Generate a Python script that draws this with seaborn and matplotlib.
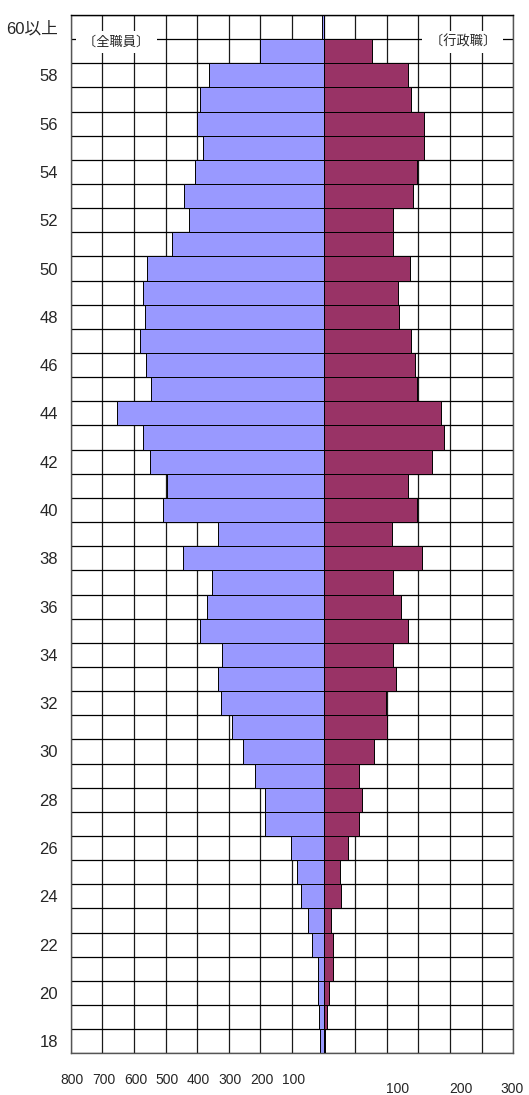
import matplotlib
matplotlib.use('Agg')
import matplotlib.pyplot as plt
import matplotlib.transforms as mtransforms
import numpy as np
import pandas as pd
import seaborn as sns

# age classes, top to bottom
ages = ['60以上'] + [str(a) for a in range(59, 17, -1)]

# 全職員 (left side, people)
all_staff = [5, 202, 364, 390, 399, 382, 407, 440, 426, 480,
             558, 571, 565, 580, 561, 545, 652, 570, 548, 494,
             509, 334, 446, 354, 370, 390, 322, 335, 325, 291,
             254, 216, 184, 184, 103, 85, 70, 50, 37, 19,
             17, 14, 11]

# 行政職 (right side, people)
admin = [0, 77, 133, 139, 159, 158, 147, 142, 110, 110,
         137, 117, 120, 139, 145, 147, 186, 191, 172, 134,
         147, 108, 156, 110, 122, 134, 109, 114, 99, 101,
         79, 56, 61, 56, 39, 26, 27, 12, 15, 15,
         9, 6, 3]

left_ticks = [800, 700, 600, 500, 400, 300, 200, 100]
right_ticks = [100, 200, 300]

sns.set_style('white')
plt.rcParams['font.family'] = ['Liberation Sans', 'Noto Sans CJK JP']

df = pd.DataFrame({'age': ages,
                   'all': [-v for v in all_staff],
                   'admin': admin})

fig = plt.figure(figsize=(5.29, 10.95), dpi=100)
ax = fig.add_axes([0.1336, 0.0381, 0.8367, 0.9482])
ax2 = ax.twiny()

sns.barplot(data=df, x='all', y='age', orient='h', color='#9999FF',
            saturation=1, edgecolor='black', linewidth=0.7, width=1.0, ax=ax)
sns.barplot(data=df, x='admin', y='age', orient='h', color='#993366',
            saturation=1, edgecolor='black', linewidth=0.7, width=1.0, ax=ax2)

n = len(ages)
ax.set_xlim(-800, 600)
ax2.set_xlim(-400, 300)
ax.set_ylim(n - 0.5, -0.5)
ax2.set_ylim(n - 0.5, -0.5)

# grid: vertical every 100 (left scale), horizontal on row borders
ax.set_xticks(np.arange(-800, 601, 100))
ax.set_xticklabels([])
ax.set_yticks(np.arange(-0.5, n, 1), minor=True)
ax.set_yticks(np.arange(0, n, 2))
ax.set_yticklabels(ages[::2], fontsize=12)
ax.set_axisbelow(True)
ax.xaxis.grid(True, color='#1a1a1a', linewidth=0.9)
ax.yaxis.grid(True, which='minor', color='black', linewidth=0.9)
ax.yaxis.grid(False, which='major')
ax.tick_params(axis='both', which='both', length=0)
ax.tick_params(axis='y', pad=9)
ax.set_xlabel('')
ax.set_ylabel('')
ax2.set_xticks([])
ax2.set_xlabel('')
ax2.set_ylabel('')
for sp in ax2.spines.values():
    sp.set_visible(False)
for name, sp in ax.spines.items():
    sp.set_color('#555555' if name in ('left', 'bottom', 'right') else 'black')
    sp.set_linewidth(1.0)

# bottom scale labels
tl = mtransforms.blended_transform_factory(ax.transData, ax.transAxes)
for v in left_ticks:
    ax.text(-v + 5, -0.0257, str(v), transform=tl, ha='center', va='center',
            fontsize=10)
tr = mtransforms.blended_transform_factory(ax2.transData, ax.transAxes)
for v in right_ticks:
    x = v + 17 if v < right_ticks[-1] else v - 2
    ax.text(x, -0.0345, str(v), transform=tr, ha='center', va='center',
            fontsize=10)

# series captions sitting on the first row border
box = dict(facecolor='white', edgecolor='none', boxstyle='square,pad=0.35')
ax.text(-655, 0.62, ' 〔全職員〕 ', ha='center', va='center', fontsize=9.5,
        family=['Noto Sans CJK JP'], bbox=box, zorder=5)
ax.text(440, 0.62, ' 〔行政職〕 ', ha='center', va='center', fontsize=9.5,
        family=['Noto Sans CJK JP'], bbox=box, zorder=5)

fig.savefig('out.png', dpi=100)
